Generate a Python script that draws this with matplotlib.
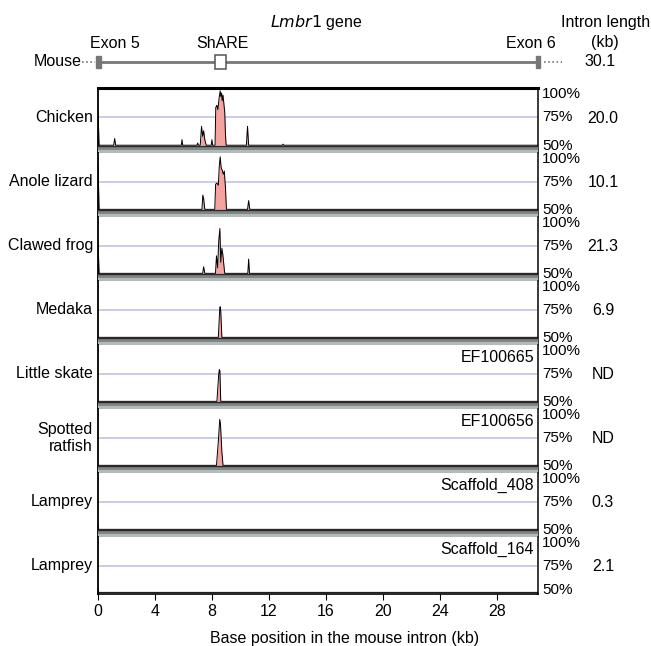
import matplotlib
matplotlib.use("Agg")
import matplotlib.pyplot as plt
from matplotlib.patches import Rectangle

plt.rcParams["font.family"] = ["Liberation Sans", "DejaVu Sans"]
plt.rcParams["font.size"] = 11

W, H = 651, 646

# --- data (kb along the mouse intron, % identity) ---
species = ["Chicken", "Anole lizard", "Clawed frog", "Medaka", "Little skate",
           "Spotted\nratfish", "Lamprey", "Lamprey"]
intron_kb = ["20.0", "10.1", "21.3", "6.9", "ND", "ND", "0.3", "2.1"]
accession = ["", "", "", "", "EF100665", "EF100656", "Scaffold_408", "Scaffold_164"]

chicken_x = [0.0, 0.0, 0.08, 1.1, 1.17, 1.24, 5.85, 5.9, 5.95, 6.95, 7.0, 7.05,
             7.18, 7.27, 7.35, 7.42, 7.5, 7.6, 7.95, 8.0, 8.05, 8.22, 8.27, 8.35,
             8.42, 8.5, 8.58, 8.62, 8.68, 8.72, 8.78, 8.85, 8.9, 8.95, 9.0,
             10.42, 10.5, 10.58, 12.95, 13.0, 13.05, 30.9]
chicken_y = [50, 80, 50, 50, 56, 50, 50, 55, 50, 50, 52, 50,
             50, 67, 58, 63, 55, 50, 50, 55, 50, 50, 84, 86,
             82, 92, 99, 94, 97, 90, 95, 86, 80, 60, 50,
             50, 67, 50, 50, 51, 50, 50]

anole_x = [0.0, 0.0, 0.08, 7.3, 7.36, 7.42, 7.5, 8.2, 8.26, 8.35, 8.45, 8.52,
           8.58, 8.65, 8.72, 8.8, 8.87, 8.95, 9.02, 10.5, 10.58, 10.66, 30.9]
anole_y = [50, 91, 50, 50, 63, 60, 50, 50, 73, 74, 72, 90,
           98, 88, 86, 82, 85, 70, 50, 50, 58, 50, 50]

frog_x = [0.0, 0.0, 0.08, 7.35, 7.42, 7.5, 8.25, 8.32, 8.4, 8.48, 8.56, 8.62,
          8.7, 8.76, 8.82, 8.9, 10.52, 10.58, 10.64, 30.9]
frog_y = [50, 79, 50, 50, 56, 50, 50, 66, 55, 80, 91, 60,
          73, 68, 60, 50, 50, 63, 50, 50]

medaka_x = [0.0, 8.45, 8.55, 8.58, 8.62, 8.7, 30.9]
medaka_y = [50, 50, 76, 78, 74, 50, 50]

skate_x = [0.0, 8.35, 8.48, 8.52, 8.56, 8.62, 30.9]
skate_y = [50, 50, 75, 79, 78, 50, 50]

ratfish_x = [0.0, 8.32, 8.45, 8.55, 8.6, 8.7, 8.78, 30.9]
ratfish_y = [50, 50, 72, 92, 88, 62, 50, 50]

lamprey1_x = [0.0, 0.0, 0.05, 30.9]
lamprey1_y = [50, 54, 50, 50]

lamprey2_x = [0.0, 0.0, 0.05, 30.9]
lamprey2_y = [50, 54, 50, 50]

tracks = [(chicken_x, chicken_y), (anole_x, anole_y), (frog_x, frog_y),
          (medaka_x, medaka_y), (skate_x, skate_y), (ratfish_x, ratfish_y),
          (lamprey1_x, lamprey1_y), (lamprey2_x, lamprey2_y)]

x_max = 30.9
x_ticks = [0, 4, 8, 12, 16, 20, 24, 28]
exon5 = (-0.12, 0.22)
share = (8.2, 9.0)
exon6 = (30.75, 31.05)


def px_axes(fig, x0, y0, x1, y1):
    return fig.add_axes([x0 / W, 1 - y1 / H, (x1 - x0) / W, (y1 - y0) / H])


def px_text(fig, x, y, s, **kw):
    return fig.text(x / W, 1 - y / H, s, va="center", **kw)


fig = plt.figure(figsize=(W / 100, H / 100), dpi=100)

left, right = 98, 538
tops = [88, 153, 217, 281, 345, 409, 473, 537]
bots = [153, 217, 281, 345, 409, 473, 537, 594]

for i, ((xs, ys), name) in enumerate(zip(tracks, species)):
    ax = px_axes(fig, left, tops[i], right, bots[i])
    last = i == len(tracks) - 1
    ylo = 48.5 if last else 43.0
    yhi = 101.5
    ax.set_xlim(0, x_max)
    ax.set_ylim(ylo, yhi)
    ax.axhline(75, color="#b9bfe6", lw=1.1, zorder=1)
    ax.fill_between(xs, 50, ys, color="#f4a3a1", lw=0, zorder=2)
    ax.plot(xs, ys, color="black", lw=0.7, zorder=3)
    if not last:
        ax.axhspan(ylo, 46.0, color="#b4baba", lw=0, zorder=4)
        ax.axhspan(46.0, 49.6, color="#7f8787", lw=0, zorder=4)
        ax.axhline(49.6, color="#2a2a2a", lw=1.0, zorder=5)
    ax.set_yticks([])
    for s in ax.spines.values():
        s.set_color("#2a2a2a")
        s.set_linewidth(1.1)
    ax.spines["left"].set_color("black")
    ax.spines["left"].set_linewidth(1.3)
    ax.spines["right"].set_linewidth(1.3)
    if i == 0:
        ax.spines["top"].set_linewidth(2.2)
        ax.spines["top"].set_color("black")
    else:
        ax.spines["top"].set_visible(False)
    if last:
        ax.set_xticks(x_ticks)
        ax.tick_params(axis="x", direction="out", length=4, labelsize=11.5)
        ax.spines["bottom"].set_color("black")
        ax.spines["bottom"].set_linewidth(1.2)
    else:
        ax.set_xticks([])

    # pixel row of the 75% line
    y75 = tops[i] + (yhi - 75) / (yhi - ylo) * (bots[i] - tops[i])
    px_text(fig, 93, y75, name, ha="right", fontsize=11.5)
    px_text(fig, 603, y75 + 1, intron_kb[i], ha="center", fontsize=11.5)
    px_text(fig, 542, tops[i] + 6, "100%", ha="left", fontsize=11)
    px_text(fig, 542, y75, "75%", ha="left", fontsize=11)
    px_text(fig, 542, bots[i] - (4 if last else 7), "50%", ha="left", fontsize=11)
    if accession[i]:
        px_text(fig, 534, tops[i] + 12, accession[i], ha="right", fontsize=11.5)

px_text(fig, 345, 638, "Base position in the mouse intron (kb)", ha="center", fontsize=11.5)

# mouse reference row
mx = px_axes(fig, left, 48, right, 76)
mx.set_xlim(0, x_max)
mx.set_ylim(-1, 1)
mx.axis("off")
mx.plot([0, x_max], [0, 0], color="#777", lw=2, zorder=1)
mx.plot([-1.1, -0.2], [0, 0], color="#777", lw=1.2, ls=(0, (1, 1.5)), clip_on=False)
mx.plot([31.3, 32.6], [0, 0], color="#777", lw=1.2, ls=(0, (1, 1.5)), clip_on=False)
mx.add_patch(Rectangle((exon5[0], -0.45), exon5[1] - exon5[0], 0.9,
                       color="#777", clip_on=False, zorder=2))
mx.add_patch(Rectangle((exon6[0], -0.45), exon6[1] - exon6[0], 0.9,
                       color="#777", clip_on=False, zorder=2))
mx.add_patch(Rectangle((share[0], -0.48), share[1] - share[0], 0.96,
                       facecolor="white", edgecolor="#555", lw=1.1, zorder=3))

px_text(fig, 82, 62, "Mouse", ha="right", fontsize=11.5)
px_text(fig, 115, 44, "Exon 5", ha="center", fontsize=11.5)
px_text(fig, 222, 44, "ShARE", ha="center", fontsize=11.5)
px_text(fig, 531, 44, "Exon 6", ha="center", fontsize=11.5)
px_text(fig, 316, 23, r"$\mathit{Lmbr1}$ gene", ha="center", fontsize=11.5)
px_text(fig, 606, 23, "Intron length", ha="center", fontsize=11.5)
px_text(fig, 605, 42, "(kb)", ha="center", fontsize=11.5)
px_text(fig, 600, 62, "30.1", ha="center", fontsize=11.5)

fig.savefig("out.png", dpi=100)
